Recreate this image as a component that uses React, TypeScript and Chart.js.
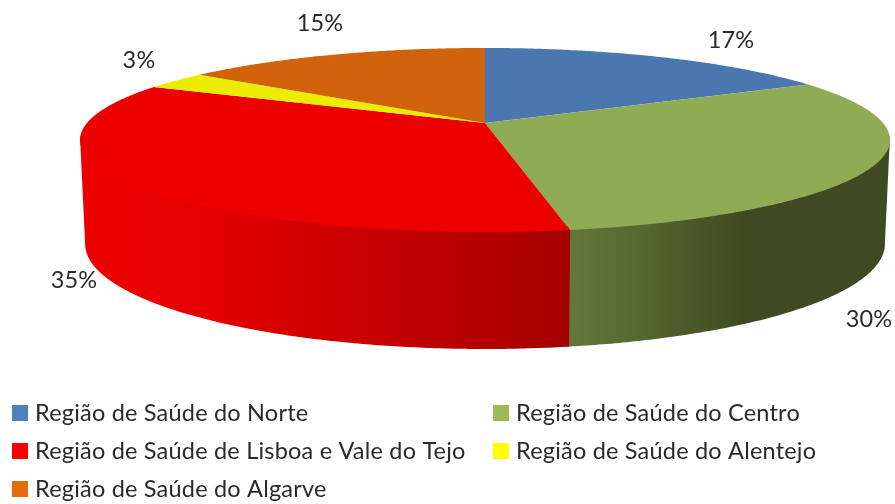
import React, { useEffect, useRef } from "react";
import { Chart, registerables } from "chart.js";

Chart.register(...registerables);

const categories = [
  "Região de Saúde do Norte",
  "Região de Saúde do Centro",
  "Região de Saúde de Lisboa e Vale do Tejo",
  "Região de Saúde do Alentejo",
  "Região de Saúde do Algarve",
];
const shares = [17.2, 30.0, 35.0, 3.1, 14.7];
const topColors = ["#4a78ae", "#8fac55", "#ec0000", "#ecec00", "#d1640a"];
const legendColors = ["#4f81bd", "#9bbb59", "#ff0000", "#ffff00", "#e46c0a"];

const labelCenters = [
  [731, 40],
  [869, 319],
  [74, 280],
  [139, 60],
  [320, 23],
];
const legendRows = [
  [12, 35, 405],
  [493, 516, 405],
  [12, 35, 443],
  [493, 516, 443],
  [12, 35, 481],
];

const CX = 485;
const K = 0.1848;
const TOP = { a: 398, b: 88.9, cy: 123 };
const BOTTOM = { a: 393, b: 101.4, cy: 224.6 };
const TEXT = "#2a2a2a";
const FONT = "Lato, 'Open Sans', sans-serif";

function rim(theta: number, r: { a: number; b: number; cy: number }) {
  const X = Math.sin(theta);
  const Y = -Math.cos(theta);
  const w = 1 - K * Y;
  return [CX + (r.a * X) / w, r.cy + (r.b * Y) / w];
}

const wallStops: Record<number, [number, string][]> = {
  1: [
    [569, "#637839"],
    [640, "#55682f"],
    [740, "#404a22"],
    [890, "#404a22"],
  ],
  2: [
    [81, "#ec0000"],
    [190, "#e80000"],
    [300, "#d20000"],
    [450, "#bb0000"],
    [569, "#a40000"],
  ],
};

const pie3d = {
  id: "pie3d",
  beforeDatasetDraw(chart: any) {
    const ctx = chart.ctx as CanvasRenderingContext2D;
    const arcs = chart.getDatasetMeta(0).data;
    const frontStart = Math.PI / 2 + Math.asin(K);
    const frontEnd = (3 * Math.PI) / 2 - Math.asin(K);
    const STEP = Math.PI / 360;
    const LIFT = 4;
    const OVERLAP = 0.005;

    [1, 2, 0, 3, 4].forEach((i) => {
      const arc = arcs[i];
      // the wall painted first reaches a little under its neighbour, so no white seam shows
      const s = Math.max(arc.startAngle + Math.PI / 2, frontStart);
      const e = Math.min(arc.endAngle + Math.PI / 2 + (i === 1 ? OVERLAP : 0), frontEnd);
      if (e <= s) return;
      const grad = ctx.createLinearGradient(81, 0, 890, 0);
      (wallStops[i] ?? [[81, topColors[i]]]).forEach(([x, c]) =>
        grad.addColorStop((x - 81) / 809, c)
      );
      ctx.beginPath();
      const [sx, sy] = rim(s, TOP);
      ctx.moveTo(sx, sy - LIFT);
      for (let t = s + STEP; t < e; t += STEP) {
        const [x, y] = rim(t, TOP);
        ctx.lineTo(x * 0.998 + CX * 0.002, y - LIFT);
      }
      const [ex, ey] = rim(e, TOP);
      ctx.lineTo(ex, ey - LIFT);
      for (let t = e; t > s; t -= STEP) {
        const [x, y] = rim(t, BOTTOM);
        ctx.lineTo(x, y);
      }
      const [bx, by] = rim(s, BOTTOM);
      ctx.lineTo(bx, by);
      ctx.closePath();
      ctx.fillStyle = grad;
      ctx.fill();
    });

    arcs.forEach((arc: any, i: number) => {
      const s = arc.startAngle + Math.PI / 2;
      const e = arc.endAngle + Math.PI / 2;
      ctx.beginPath();
      ctx.moveTo(CX, TOP.cy);
      for (let t = s; t < e; t += STEP) {
        const [x, y] = rim(t, TOP);
        ctx.lineTo(x, y);
      }
      const [x, y] = rim(e, TOP);
      ctx.lineTo(x, y);
      ctx.closePath();
      ctx.fillStyle = topColors[i];
      ctx.fill();
    });
    return false;
  },
  afterDraw(chart: any) {
    const ctx = chart.ctx as CanvasRenderingContext2D;
    const values = chart.data.datasets[0].data as number[];
    ctx.save();
    ctx.fillStyle = TEXT;
    ctx.textBaseline = "alphabetic";
    ctx.filter = "blur(0.35px)";
    ctx.font = `23.5px ${FONT}`;
    (ctx as any).letterSpacing = "0.2px";
    ctx.textAlign = "center";
    values.forEach((v, i) => {
      const [x, y] = labelCenters[i];
      ctx.fillText(`${Math.round(v)}%`, x, y + 8);
    });
    ctx.textAlign = "left";
    (chart.data.labels as string[]).forEach((label, i) => {
      const [bx, tx, y] = legendRows[i];
      ctx.fillStyle = legendColors[i];
      ctx.fillRect(bx, y, 16, 16);
      ctx.fillStyle = TEXT;
      ctx.fillText(label, tx, y + 16);
    });
    ctx.restore();
  },
};

export default function App() {
  const ref = useRef<HTMLCanvasElement>(null);
  useEffect(() => {
    const chart = new Chart(ref.current!, {
      type: "pie",
      data: {
        labels: categories,
        datasets: [{ data: shares, backgroundColor: topColors, borderWidth: 0 }],
      },
      options: {
        responsive: false,
        animation: false,
        plugins: { legend: { display: false }, tooltip: { enabled: false } },
      },
      plugins: [pie3d],
    });
    return () => chart.destroy();
  }, []);
  return (
    <div style={{ position: "fixed", left: 0, top: 0, width: 895, height: 504, background: "#fff" }}>
      <canvas ref={ref} width={895} height={504} style={{ display: "block" }} />
    </div>
  );
}
